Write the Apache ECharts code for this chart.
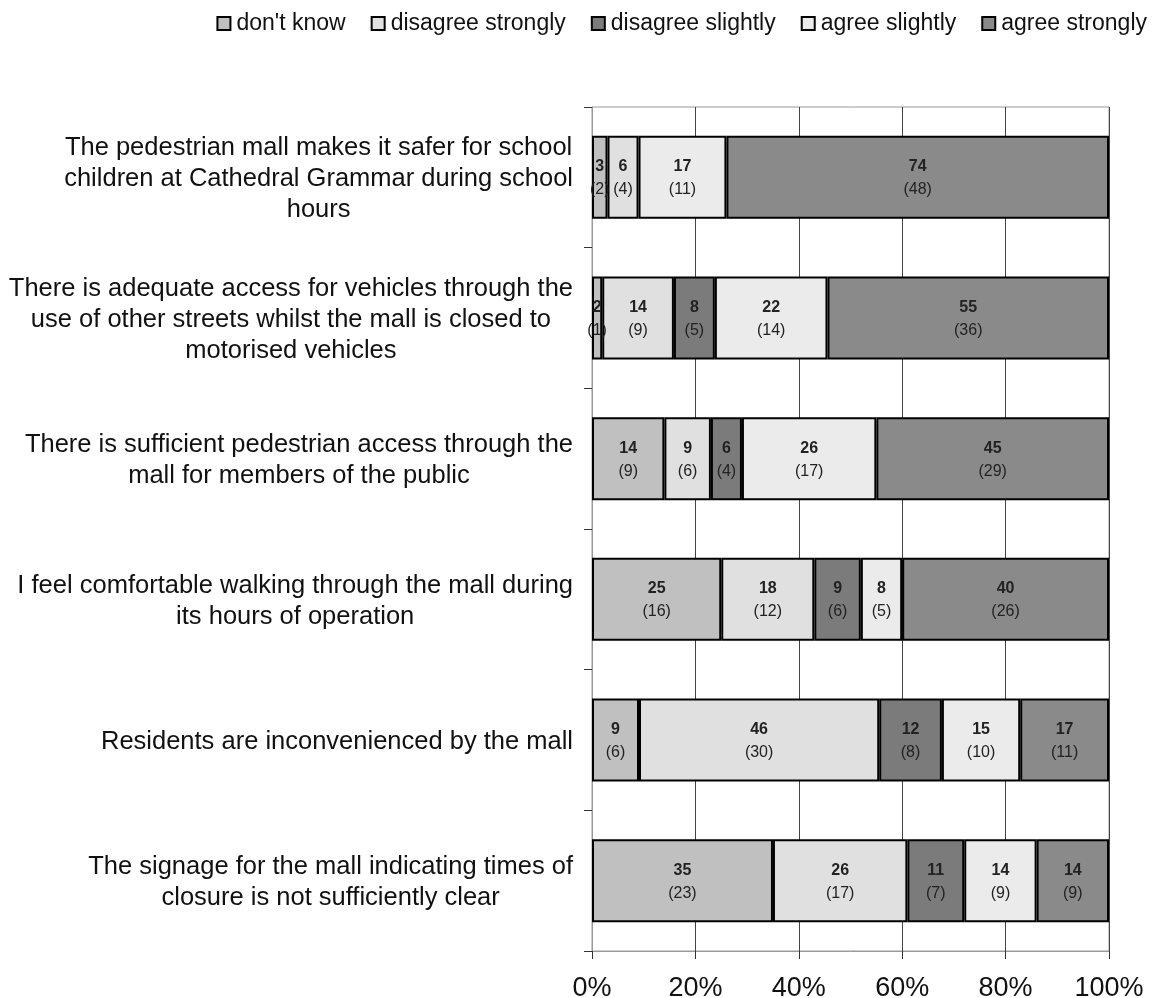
<!DOCTYPE html>
<html>
<head>
<meta charset="utf-8">
<script src="https://cdn.jsdelivr.net/npm/echarts@6/dist/echarts.min.js"></script>
<style>
  html, body { margin: 0; padding: 0; background: #fff; }
  #chart { width: 1156px; height: 998px; }
</style>
</head>
<body>
<div id="chart"></div>
<script>
// Survey statements (top to bottom)
const categories = [
  'The pedestrian mall makes it safer for school\nchildren at Cathedral Grammar during school\nhours',
  'There is adequate access for vehicles through the\nuse of other streets whilst the mall is closed to\nmotorised vehicles',
  'There is sufficient pedestrian access through the\nmall for members of the public',
  'I feel comfortable walking through the mall during\nits hours of operation',
  'Residents are inconvenienced by the mall',
  'The signage for the mall indicating times of\nclosure is not sufficiently clear'
];

const responseNames = ["don't know", 'disagree strongly', 'disagree slightly', 'agree slightly', 'agree strongly'];

// Percentage of respondents per statement
const dontKnowPct    = [3, 2, 14, 25, 9, 35];
const disStrongPct   = [6, 14, 9, 18, 46, 26];
const disSlightPct   = [0, 8, 6, 9, 12, 11];
const agrSlightPct   = [17, 22, 26, 8, 15, 14];
const agrStrongPct   = [74, 55, 45, 40, 17, 14];

// Number of respondents per statement
const dontKnowN  = [2, 1, 9, 16, 6, 23];
const disStrongN = [4, 9, 6, 12, 30, 17];
const disSlightN = [0, 5, 4, 6, 8, 7];
const agrSlightN = [11, 14, 17, 5, 10, 9];
const agrStrongN = [48, 36, 29, 26, 11, 9];

const xTicks = [0, 20, 40, 60, 80, 100];

const pctSets = [dontKnowPct, disStrongPct, disSlightPct, agrSlightPct, agrStrongPct];
const countSets = [dontKnowN, disStrongN, disSlightN, agrSlightN, agrStrongN];
const colors = ['#c0c0c0', '#e0e0e0', '#7b7b7b', '#ebebeb', '#8a8a8a'];

// 100% stacking: each row is scaled by the sum of its percentages
const rowSums = categories.map((_, i) => pctSets.reduce((s, arr) => s + arr[i], 0));

const FONT = '"Liberation Sans", Arial, Helvetica, sans-serif';

const series = responseNames.map((name, k) => ({
  name: name,
  type: 'bar',
  stack: 'all',
  barWidth: 83,
  itemStyle: { color: colors[k], borderColor: '#000', borderWidth: 2 },
  label: {
    show: true,
    position: 'inside',
    offset: [0, 1],
    fontFamily: FONT,
    color: '#222',
    formatter: p => '{b|' + pctSets[k][p.dataIndex] + '}\n{n|(' + countSets[k][p.dataIndex] + ')}',
    rich: {
      b: { fontFamily: FONT, fontSize: 16, fontWeight: 'bold', color: '#222', lineHeight: 23 },
      n: { fontFamily: FONT, fontSize: 16, color: '#222', lineHeight: 23 }
    }
  },
  data: pctSets[k].map((v, i) => v > 0 ? v / rowSums[i] * 100 : '-')
}));

const chart = echarts.init(document.getElementById('chart'), null, { renderer: 'canvas' });
chart.setOption({
  animation: false,
  backgroundColor: '#fff',
  legend: {
    data: responseNames,
    top: 7,
    right: 4,
    icon: 'rect',
    itemWidth: 13,
    itemHeight: 13,
    itemGap: 25,
    itemStyle: { borderColor: '#000', borderWidth: 2 },
    textStyle: { fontFamily: FONT, fontSize: 23, color: '#111', padding: [0, 0, 0, 1] }
  },
  grid: {
    left: 592, right: 47, top: 107, bottom: 47,
    show: true, borderColor: '#999', borderWidth: 1,
    containLabel: false,
    outerBoundsMode: 'none'
  },
  xAxis: {
    type: 'value',
    min: xTicks[0],
    max: xTicks[xTicks.length - 1],
    interval: xTicks[1] - xTicks[0],
    axisLine: { show: true, lineStyle: { color: '#999', width: 1 } },
    axisTick: { show: true, length: 8, lineStyle: { color: '#333' } },
    splitLine: { show: true, lineStyle: { color: '#444', width: 1 } },
    axisLabel: {
      formatter: '{value}%',
      fontFamily: FONT, fontSize: 27, color: '#111', margin: 24
    }
  },
  yAxis: {
    type: 'category',
    inverse: true,
    data: categories,
    axisLine: { show: true, lineStyle: { color: '#999', width: 1 } },
    axisTick: { show: true, length: 8, alignWithLabel: false, lineStyle: { color: '#333' } },
    splitLine: { show: false },
    axisLabel: {
      margin: 19,
      align: 'right',
      padding: [4, 0, 0, 0],
      formatter: v => v.split('\n').map(l => '{c|' + l + '}').join('\n'),
      rich: {
        c: { align: 'center', fontFamily: FONT, fontSize: 25.5, color: '#111', lineHeight: 31 }
      }
    }
  },
  series: series
});
</script>
</body>
</html>
